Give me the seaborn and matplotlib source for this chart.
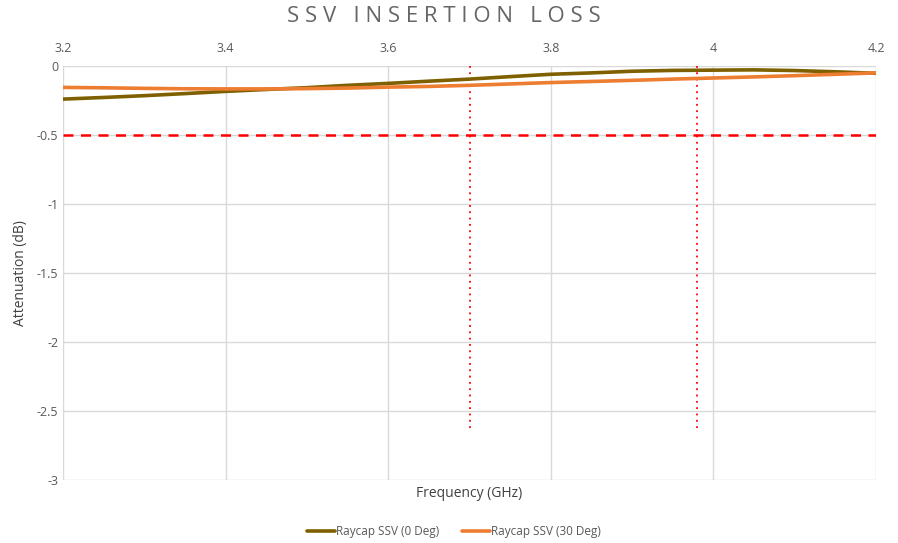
import matplotlib
matplotlib.use("Agg")
import matplotlib.pyplot as plt
import seaborn as sns
import pandas as pd

freq = [3.2, 3.25, 3.3, 3.35, 3.4, 3.45, 3.5, 3.55, 3.6, 3.65, 3.7,
        3.75, 3.8, 3.85, 3.9, 3.95, 4.0, 4.05, 4.1, 4.15, 4.2]
loss_0deg = [-0.240, -0.228, -0.215, -0.200, -0.184, -0.170, -0.157, -0.140,
             -0.126, -0.110, -0.095, -0.077, -0.060, -0.050, -0.038, -0.032,
             -0.030, -0.028, -0.033, -0.042, -0.053]
loss_30deg = [-0.155, -0.158, -0.162, -0.165, -0.166, -0.166, -0.164, -0.160,
              -0.153, -0.148, -0.140, -0.130, -0.120, -0.112, -0.104, -0.095,
              -0.087, -0.079, -0.070, -0.060, -0.050]
series_names = ["Raycap SSV (0 Deg)", "Raycap SSV (30 Deg)"]
series_colors = ["#7F6000", "#ED7D31"]

limit_db = -0.5
band_edges = [3.7, 3.98]
band_bottom = -2.65

df = pd.concat([
    pd.DataFrame({"Frequency": freq, "Loss": loss_0deg, "Series": series_names[0]}),
    pd.DataFrame({"Frequency": freq, "Loss": loss_30deg, "Series": series_names[1]}),
])

sns.set_style("white")
plt.rcParams["font.family"] = ["Open Sans", "DejaVu Sans"]

fig = plt.figure(figsize=(8.98, 5.43), dpi=100)
ax = fig.add_axes([63 / 898, 1 - 480 / 543, 813 / 898, 414 / 543])

sns.lineplot(data=df, x="Frequency", y="Loss", hue="Series",
             palette=dict(zip(series_names, series_colors)),
             linewidth=2.6, ax=ax, zorder=3)

# -0.5 dB limit and band markers
ax.plot([freq[0], freq[-1]], [limit_db, limit_db], color="#FF0000",
        linestyle=(0, (4, 3)), linewidth=1.8, zorder=2)
for x in band_edges:
    ax.plot([x, x], [0, band_bottom], color="#FF0000",
            linestyle=(0, (1, 2.5)), linewidth=1.3, zorder=2)

ax.set_xlim(3.2, 4.2)
ax.set_ylim(-3, 0)
ax.set_xticks([3.2, 3.4, 3.6, 3.8, 4.0, 4.2])
ax.set_xticklabels(["3.2", "3.4", "3.6", "3.8", "4", "4.2"])
ax.set_yticks([0, -0.5, -1, -1.5, -2, -2.5, -3])
ax.set_yticklabels(["0", "-0.5", "-1", "-1.5", "-2", "-2.5", "-3"])
ax.xaxis.tick_top()
ax.xaxis.set_label_position("bottom")
ax.tick_params(axis="both", length=0, labelsize=9, colors="#595959")
ax.tick_params(axis="x", pad=8)
ax.grid(True, color="#D9D9D9", linewidth=1)
for s in ax.spines.values():
    s.set_visible(False)

ax.set_xlabel("Frequency (GHz)", fontsize=10, color="#404040", labelpad=4)
ax.set_ylabel("Attenuation (dB)", fontsize=10, color="#404040", labelpad=6)

fig.text(0.494, 1 - 17 / 543, "S S V   I N S E R T I O N   L O S S",
         ha="center", va="center", fontsize=16, color="#666666")

handles, labels = ax.get_legend_handles_labels()
ax.legend(handles, labels, loc="center", bbox_to_anchor=(0.481, -0.125),
          ncol=2, frameon=False, fontsize=8.5, handlelength=2.4,
          handletextpad=0.1, columnspacing=1.9, labelcolor="#595959")

fig.savefig("out.png", dpi=100)
